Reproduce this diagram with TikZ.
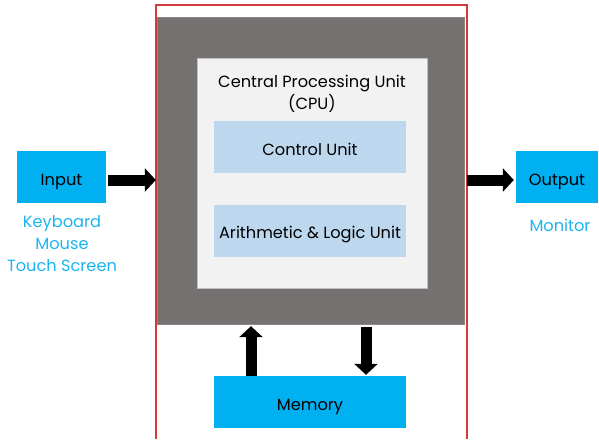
\documentclass[tikz,border=0pt]{standalone}
\usepackage{fontspec}
\setmainfont{Poppins}
\usetikzlibrary{arrows.meta}

\definecolor{boxblue}{HTML}{00B0F0}
\definecolor{labelblue}{HTML}{1CB4F0}
\definecolor{cpugray}{HTML}{767171}
\definecolor{paneledge}{HTML}{BFBFBF}
\definecolor{unitblue}{HTML}{BDD7EE}
\definecolor{framered}{HTML}{D43A3A}

\tikzset{
  iobox/.style={fill=boxblue, minimum height=52pt, inner sep=0pt, text height=16pt, text depth=0pt},
  unitbox/.style={fill=unitblue, minimum width=192pt, minimum height=52pt, inner sep=0pt, text height=16pt, text depth=0pt},
  devlabel/.style={text=labelblue, align=center, inner sep=0pt},
  bigarrow/.style={draw=black, line width=11pt, -{Triangle[width=23pt,length=11pt]}}
  }

\begin{document}
\begin{tikzpicture}[x=1pt, y=-1pt, font=\fontsize{16.2}{22}\selectfont]
  \useasboundingbox (0,0) rectangle (599,439);

  % outer frame, open at the bottom
  \draw[framered, line width=1.2pt] (156,439) -- (156,5) -- (467,5) -- (467,439);

  \node[fill=cpugray, draw=cpugray!85!white, minimum width=307pt, minimum height=307pt, inner sep=0pt] (cpu) at (310.5,170.5) {};
  \node[fill=black!5, draw=paneledge, line width=0.6pt, minimum width=230pt, minimum height=230pt, inner sep=0pt] (panel) at (312,173) {};
  \node[align=center, inner sep=0pt] (title) at (312,94) {Central Processing Unit\\(CPU)};

  \node[unitbox] (cu) at (310,147) {Control Unit};
  \node[unitbox] (alu) at (310,230.5) {Arithmetic \& Logic Unit};

  \node[iobox, minimum width=89pt] (input) at (61.5,177) {Input};
  \node[iobox, minimum width=82pt] (output) at (557,177) {Output};
  \node[iobox, minimum width=192pt] (memory) at (310,402) {Memory};

  \node[devlabel] (indev) at (62,244) {Keyboard\\Mouse\\Touch Screen};
  \node[devlabel] (outdev) at (560,225) {Monitor};

  \draw[bigarrow] ([xshift=2pt,yshift=-3pt]input.east) -- ([xshift=-1pt,yshift=-3pt]input.east -| cpu.west);
  \draw[bigarrow] ([xshift=3pt,yshift=-3pt]output.west -| cpu.east) -- ([xshift=-2pt,yshift=-3pt]output.west);
  \draw[bigarrow] ([xshift=-59pt]memory.north) -- ([xshift=-59pt,yshift=-2pt]memory.north |- cpu.south);
  \draw[bigarrow] ([xshift=56pt,yshift=-3pt]memory.north |- cpu.south) -- ([xshift=56pt,yshift=1pt]memory.north);

\end{tikzpicture}
\end{document}
